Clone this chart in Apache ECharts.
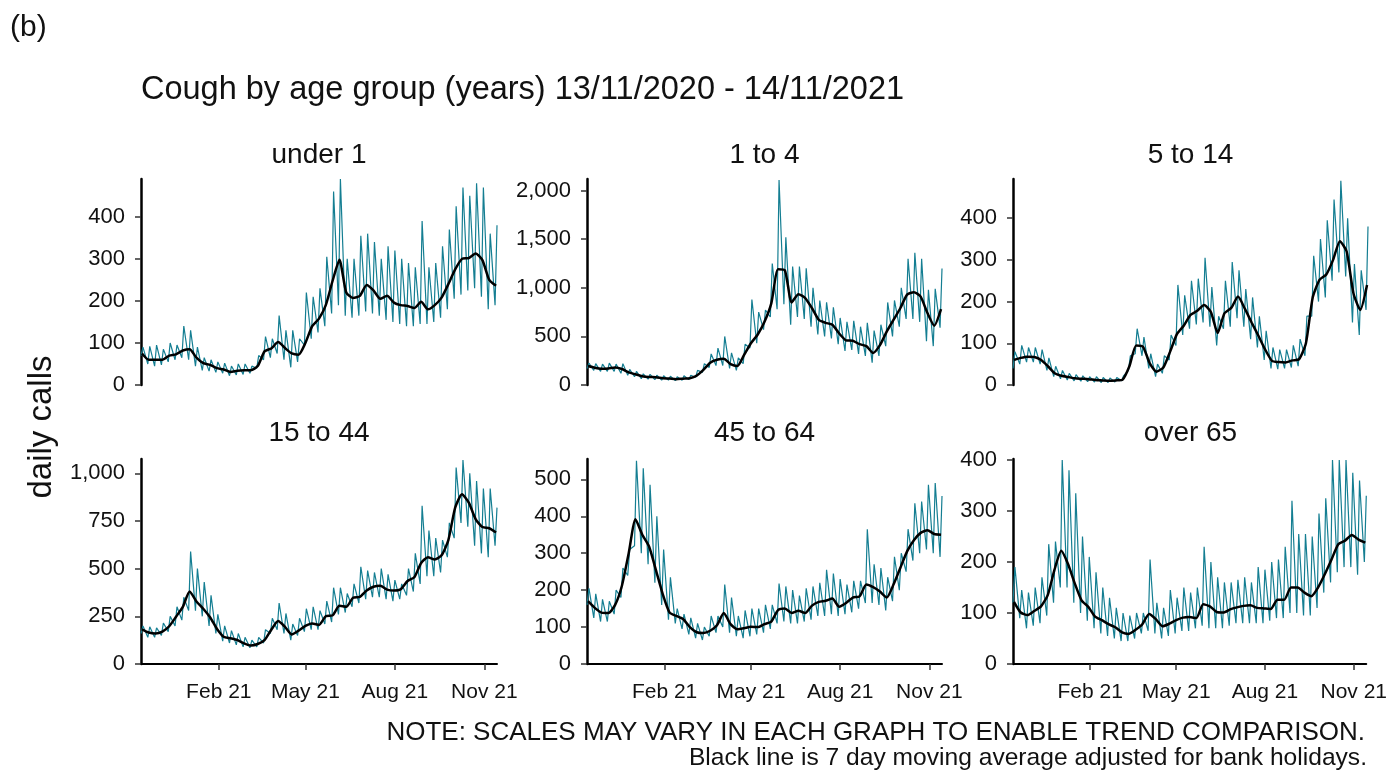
<!DOCTYPE html>
<html>
<head>
<meta charset="utf-8">
<script src="https://cdn.jsdelivr.net/npm/echarts@6/dist/echarts.min.js"></script>
<style>
  html, body { margin: 0; padding: 0; background: #fff; }
  #main { width: 1390px; height: 774px; }
</style>
</head>
<body>
<div id="main"></div>
<script>
// x axis counts days from 13/11/2020
const tickDays = [80, 169, 261, 353]
const tickLabels = ['Feb 21', 'May 21', 'Aug 21', 'Nov 21']

// 7 day moving average, one reading per week (day 7k + 1)
const avgUnder1 = [75, 60, 60, 60, 70, 73, 82, 85, 65, 52, 48, 40, 37, 31, 34, 35, 35, 45, 80, 87, 102, 88, 75, 72, 100, 140, 158, 190, 248, 298, 220, 207, 212, 238, 225, 205, 212, 196, 190, 188, 183, 198, 180, 190, 208, 240, 275, 300, 302, 313, 297, 250, 236]
const avg1to4 = [195, 178, 168, 170, 180, 165, 130, 110, 90, 82, 80, 70, 66, 60, 65, 69, 95, 155, 230, 260, 270, 215, 195, 310, 430, 520, 650, 840, 1190, 1180, 850, 935, 895, 790, 670, 640, 620, 530, 460, 455, 420, 400, 330, 410, 550, 670, 790, 930, 955, 910, 740, 610, 780]
const avg5to14 = [60, 65, 68, 67, 60, 45, 28, 22, 19, 16, 15, 14, 12, 11, 10, 11, 13, 45, 95, 92, 52, 32, 42, 80, 122, 142, 168, 178, 192, 175, 125, 172, 185, 212, 183, 150, 118, 85, 58, 55, 54, 59, 62, 100, 210, 252, 265, 300, 345, 320, 220, 180, 240]
const avg15to44 = [182, 165, 160, 170, 198, 248, 300, 380, 328, 290, 245, 185, 143, 135, 126, 108, 97, 105, 125, 180, 225, 195, 155, 175, 200, 213, 205, 250, 255, 305, 300, 347, 352, 385, 405, 410, 390, 385, 392, 435, 455, 530, 560, 548, 570, 650, 820, 890, 846, 760, 718, 712, 690]
const avg45to64 = [170, 152, 139, 138, 160, 212, 300, 392, 350, 318, 255, 190, 140, 130, 122, 100, 86, 84, 90, 105, 138, 108, 94, 97, 101, 100, 108, 115, 146, 150, 138, 144, 138, 158, 168, 171, 177, 155, 165, 180, 183, 215, 208, 196, 180, 215, 260, 305, 335, 355, 362, 352, 350]
const avgOver65 = [122, 101, 96, 104, 113, 135, 185, 222, 196, 158, 125, 112, 93, 86, 78, 72, 62, 59, 67, 78, 98, 88, 74, 79, 86, 91, 92, 90, 117, 113, 102, 101, 107, 111, 114, 115, 110, 109, 108, 126, 126, 150, 150, 140, 133, 150, 176, 205, 235, 242, 253, 244, 238]

// daily calls: weekday low (day 7k) and weekend high (day 7k + 2)
const lowUnder1 = [70, 50, 45, 48, 55, 60, 65, 60, 45, 35, 33, 30, 28, 22, 24, 25, 28, 40, 60, 65, 75, 60, 42, 55, 95, 110, 125, 140, 170, 190, 165, 160, 165, 175, 170, 165, 155, 150, 145, 140, 140, 145, 145, 150, 160, 180, 205, 215, 225, 230, 210, 180, 190]
const highUnder1 = [90, 92, 95, 85, 100, 95, 140, 130, 90, 65, 60, 55, 52, 45, 50, 50, 45, 70, 115, 110, 165, 130, 130, 110, 220, 210, 230, 305, 460, 490, 300, 300, 355, 360, 340, 300, 330, 320, 300, 290, 280, 390, 280, 290, 330, 370, 425, 470, 450, 480, 470, 360, 380]
const low1to4 = [170, 150, 140, 140, 140, 120, 100, 85, 65, 60, 55, 50, 50, 45, 50, 55, 80, 130, 180, 200, 200, 170, 150, 220, 380, 430, 570, 700, 780, 830, 620, 700, 680, 600, 520, 500, 480, 420, 350, 360, 320, 300, 230, 300, 400, 500, 600, 680, 680, 650, 450, 400, 590]
const high1to4 = [225, 220, 215, 225, 215, 220, 160, 140, 115, 110, 100, 95, 90, 85, 95, 100, 150, 220, 320, 380, 500, 330, 280, 420, 880, 750, 770, 1250, 2110, 1520, 1220, 1220, 1200, 1000, 870, 850, 800, 690, 650, 660, 600, 640, 560, 620, 850, 870, 1000, 1300, 1360, 1300, 980, 990, 1200]
const low5to14 = [40, 50, 55, 55, 50, 35, 20, 15, 12, 10, 9, 8, 7, 6, 6, 7, 10, 35, 75, 70, 40, 20, 28, 60, 95, 120, 135, 145, 150, 140, 95, 135, 140, 160, 140, 110, 90, 60, 40, 38, 40, 42, 45, 70, 165, 200, 210, 250, 270, 260, 150, 120, 180]
const high5to14 = [80, 95, 90, 90, 85, 65, 45, 35, 28, 25, 22, 20, 20, 18, 17, 18, 22, 70, 135, 115, 75, 50, 70, 120, 240, 215, 250, 255, 305, 235, 165, 250, 295, 275, 230, 210, 165, 130, 90, 85, 85, 95, 110, 165, 310, 350, 395, 445, 490, 400, 290, 275, 380]
const low15to44 = [160, 140, 140, 150, 170, 200, 230, 280, 280, 250, 200, 160, 120, 110, 100, 90, 85, 90, 110, 160, 180, 160, 125, 150, 170, 180, 180, 210, 220, 260, 270, 300, 320, 340, 350, 350, 340, 330, 340, 360, 380, 420, 460, 460, 480, 560, 660, 740, 720, 620, 580, 560, 620]
const high15to44 = [200, 195, 190, 215, 250, 300, 350, 590, 500, 430, 360, 260, 200, 175, 160, 140, 125, 140, 180, 240, 320, 265, 210, 240, 290, 300, 280, 330, 400, 400, 370, 420, 510, 490, 480, 500, 470, 440, 420, 500, 580, 830, 700, 660, 650, 740, 1030, 1070, 1000, 960, 920, 920, 820]
const low45to64 = [160, 125, 115, 115, 135, 180, 240, 320, 300, 270, 220, 160, 120, 110, 95, 80, 70, 65, 75, 85, 100, 85, 75, 70, 75, 80, 85, 95, 110, 115, 110, 110, 115, 120, 130, 130, 135, 130, 135, 140, 150, 165, 165, 160, 145, 170, 200, 250, 280, 300, 310, 300, 290]
const high45to64 = [205, 190, 175, 170, 200, 260, 310, 550, 530, 485, 400, 310, 235, 150, 135, 125, 110, 100, 130, 130, 215, 180, 130, 145, 150, 150, 160, 160, 218, 210, 200, 185, 205, 210, 220, 255, 245, 230, 215, 225, 225, 365, 270, 260, 235, 290, 300, 365, 435, 440, 485, 490, 455]
const lowOver65 = [120, 90, 70, 75, 80, 95, 120, 150, 150, 120, 100, 85, 70, 60, 55, 50, 45, 45, 50, 60, 65, 60, 50, 55, 60, 65, 65, 70, 75, 70, 70, 70, 75, 80, 80, 80, 80, 80, 85, 90, 90, 100, 100, 95, 95, 110, 140, 160, 180, 190, 190, 175, 200]
const highOver65 = [190, 145, 140, 150, 170, 235, 240, 400, 380, 335, 250, 210, 180, 150, 130, 110, 100, 95, 100, 100, 205, 120, 110, 145, 130, 150, 140, 150, 230, 200, 170, 160, 160, 165, 170, 160, 190, 185, 200, 205, 230, 320, 255, 255, 250, 295, 325, 400, 400, 400, 375, 360, 330]

const panelNames = ['under 1', '1 to 4', '5 to 14', '15 to 44', '45 to 64', 'over 65']
const yTicks = [
  [0, 100, 200, 300, 400],
  [0, 500, 1000, 1500, 2000],
  [0, 100, 200, 300, 400],
  [0, 250, 500, 750, 1000],
  [0, 100, 200, 300, 400, 500],
  [0, 100, 200, 300, 400]
]
const yMax = [490, 2120, 494, 1075, 555, 402]

const panels = [
  { avg: avgUnder1, low: lowUnder1, high: highUnder1 },
  { avg: avg1to4, low: low1to4, high: high1to4 },
  { avg: avg5to14, low: low5to14, high: high5to14 },
  { avg: avg15to44, low: low15to44, high: high15to44 },
  { avg: avg45to64, low: low45to64, high: high45to64 },
  { avg: avgOver65, low: lowOver65, high: highOver65 }
]

// layout
const colLeft = [141, 587, 1013]
const colWidth = [356, 355, 355]
const rowTop = [179, 459]
const rowHeight = [206, 205]
const font = '"Liberation Sans", Arial, sans-serif'
const teal = '#147e92'

const grids = [], xAxes = [], yAxes = [], series = [], graphics = []

panels.forEach((p, i) => {
  const col = i % 3
  const row = Math.floor(i / 3)
  const bottom = row === 1
  grids.push({ left: colLeft[col], width: colWidth[col], top: rowTop[row], height: rowHeight[row] })
  xAxes.push({
    gridIndex: i, type: 'value', min: 0, max: 366,
    axisLine: { show: bottom, lineStyle: { color: '#000', width: 2 } },
    axisTick: { show: bottom, customValues: tickDays, length: 6, lineStyle: { color: '#333', width: 1.5 } },
    axisLabel: {
      show: bottom, customValues: tickDays, margin: 18,
      formatter: v => tickLabels[tickDays.indexOf(v)],
      fontSize: 21, color: '#111', fontFamily: font
    },
    splitLine: { show: false }
  })
  yAxes.push({
    gridIndex: i, type: 'value', min: 0, max: yMax[i],
    axisLine: { show: true, lineStyle: { color: '#000', width: 2.5 } },
    axisTick: { show: true, customValues: yTicks[i], length: 6, lineStyle: { color: '#333', width: 1.5 } },
    axisLabel: {
      customValues: yTicks[i], margin: 16,
      formatter: v => v.toLocaleString('en-US'),
      fontSize: 22, color: '#111', fontFamily: font
    },
    splitLine: { show: false }
  })

  // daily calls zigzag: low on Friday, high on Sunday
  const daily = []
  p.low.forEach((v, k) => {
    daily.push([7 * k, v])
    daily.push([7 * k + 2, p.high[k]])
  })
  series.push({
    type: 'line', xAxisIndex: i, yAxisIndex: i, data: daily,
    showSymbol: false, lineStyle: { color: teal, width: 1.2 }, z: 2
  })
  series.push({
    type: 'line', xAxisIndex: i, yAxisIndex: i,
    data: p.avg.map((v, k) => [7 * k + 1, v]),
    showSymbol: false, smooth: 0.2, lineStyle: { color: '#000', width: 2.5 }, z: 3
  })

  graphics.push({
    type: 'text', x: colLeft[col] + colWidth[col] / 2, y: row === 0 ? 155 : 433,
    style: { text: panelNames[i], fontSize: 28, fontFamily: font, fill: '#111', textAlign: 'center', textVerticalAlign: 'middle' }
  })
})

graphics.push(
  { type: 'text', x: 10, y: 28, style: { text: '(b)', fontSize: 30, fontFamily: font, fill: '#111', textVerticalAlign: 'middle' } },
  { type: 'text', x: 141, y: 90, style: { text: 'Cough by age group (years) 13/11/2020 - 14/11/2021', fontSize: 32.5, fontFamily: font, fill: '#111', textVerticalAlign: 'middle' } },
  { type: 'text', x: 42, y: 427, rotation: Math.PI / 2, style: { text: 'daily calls', fontSize: 33, fontFamily: font, fill: '#111', textAlign: 'center', textVerticalAlign: 'middle' } },
  { type: 'text', x: 1365, y: 733, style: { text: 'NOTE: SCALES MAY VARY IN EACH GRAPH TO ENABLE TREND COMPARISON.', fontSize: 26, fontFamily: font, fill: '#111', textAlign: 'right', textVerticalAlign: 'middle' } },
  { type: 'text', x: 1367, y: 758, style: { text: 'Black line is 7 day moving average adjusted for bank holidays.', fontSize: 24.6, fontFamily: font, fill: '#111', textAlign: 'right', textVerticalAlign: 'middle' } }
)

const chart = echarts.init(document.getElementById('main'))
chart.setOption({
  animation: false,
  backgroundColor: '#fff',
  grid: grids,
  xAxis: xAxes,
  yAxis: yAxes,
  series: series,
  graphic: graphics
})
</script>
</body>
</html>
